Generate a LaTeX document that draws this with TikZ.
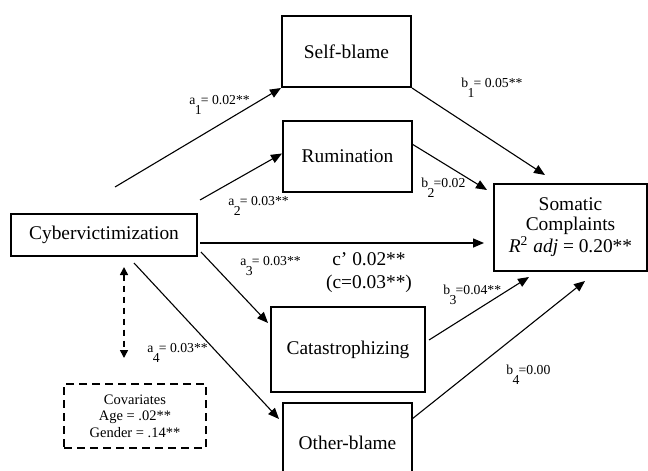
\documentclass[tikz,border=0pt]{standalone}
\usepackage{fontspec}
\setmainfont{Liberation Serif}
\usetikzlibrary{arrows.meta,calc}

\newcommand{\pathcoef}[3]{#1\makebox[0.4em][c]{\raisebox{-0.8em}{#2}}#3}

\begin{document}
\begin{tikzpicture}[x=0.5pt, y=-0.5pt,
                    box/.style={draw, line width=1pt, inner sep=0pt,
                                font=\fontsize{9.7}{10}\selectfont},
                    coef/.style={anchor=base west, inner sep=0pt,
                                 font=\fontsize{6.85}{7}\selectfont},
                    arr/.style={-{Triangle[length=5.5pt,width=4.5pt]}, line width=0.55pt}]
    \useasboundingbox (0,0) rectangle (648,471);
    \clip (0,0) rectangle (648,471);

    \node[box, minimum width=93pt, minimum height=21pt]     (cyber) at (104,235)     {Cybervictimization};
    \node[box, minimum width=64.5pt, minimum height=35.5pt] (self)  at (346.5,51.5)  {Self-blame};
    \node[box, minimum width=64.5pt, minimum height=35.5pt] (rum)   at (347.5,156.5) {Rumination};
    \node[box, minimum width=77pt, minimum height=42.5pt]   (cat)   at (348,349.5)   {Catastrophizing};
    \node[box, minimum width=64.5pt, minimum height=40pt]   (other) at (347.5,443)   {Other-blame};
    \node[box, minimum width=76.5pt, minimum height=43.5pt, align=center,
          font=\fontsize{9.7}{9.8}\selectfont]              (soma)  at (570.5,227.5)
          {Somatic\\Complaints\\\textit{R}\textsuperscript{2} \textit{adj} = 0.20**};
    \node[box, dash pattern=on 4pt off 2.5pt, minimum width=71pt, minimum height=32pt,
          align=center, font=\fontsize{7.25}{8.2}\selectfont] (cov) at (135,416)
          {Covariates\\Age = .02**\\Gender = .14**};

    % free ends of the paths
    \coordinate (a1s) at (115,187);
    \coordinate (a2s) at (200,200);
    \coordinate (cs)  at (200,243);
    \coordinate (ce)  at (484,243);
    \coordinate (a3s) at (201,252);
    \coordinate (a3e) at (268,323);
    \coordinate (a4s) at (134,263);
    \coordinate (a4e) at (279,419);
    \coordinate (covt) at (124,267);
    \coordinate (covb) at (124,358);
    \coordinate (b1e) at (545,175);
    \coordinate (b2s) at (412,144);
    \coordinate (b2e) at (487,190);
    \coordinate (b3s) at (429,340);
    \coordinate (b3e) at (529,277);
    \coordinate (b4s) at (412,419);
    \coordinate (b4e) at (585,281);

    \path[arr]
    (a1s) edge (self.south west)
    (a2s) edge ($(rum.west)+(0,-3)$)
    (a3s) edge (a3e)
    (a4s) edge (a4e)
    (self.south east) edge (b1e)
    (b2s) edge (b2e)
    (b3s) edge (b3e)
    (b4s) edge (b4e);
    \draw[arr, line width=0.75pt] (cs) -- (ce);
    \draw[{Triangle[length=4pt,width=4pt]}-{Triangle[length=4pt,width=4pt]},
          line width=0.8pt, dash pattern=on 3pt off 2.5pt] (covt) -- (covb);

    \node[coef] (la1) at (189,104) {\pathcoef{a}{1}{= 0.02**}};
    \node[coef] (la2) at (228,205) {\pathcoef{a}{2}{= 0.03**}};
    \node[coef] (la3) at (240,265) {\pathcoef{a}{3}{= 0.03**}};
    \node[coef] (la4) at (147,352) {\pathcoef{a}{4}{= 0.03**}};
    \node[coef] (lb1) at (461,87)  {\pathcoef{b}{1}{= 0.05**}};
    \node[coef] (lb2) at (421,187) {\pathcoef{b}{2}{=0.02}};
    \node[coef] (lb3) at (443,294) {\pathcoef{b}{3}{=0.04**}};
    \node[coef] (lb4) at (506,374) {\pathcoef{b}{4}{=0.00}};
    \node[align=center, inner sep=0pt, font=\fontsize{9.7}{11.5}\selectfont]
          (lc) at (369,273) {c' 0.02**\\(c=0.03**)};
\end{tikzpicture}
\end{document}
